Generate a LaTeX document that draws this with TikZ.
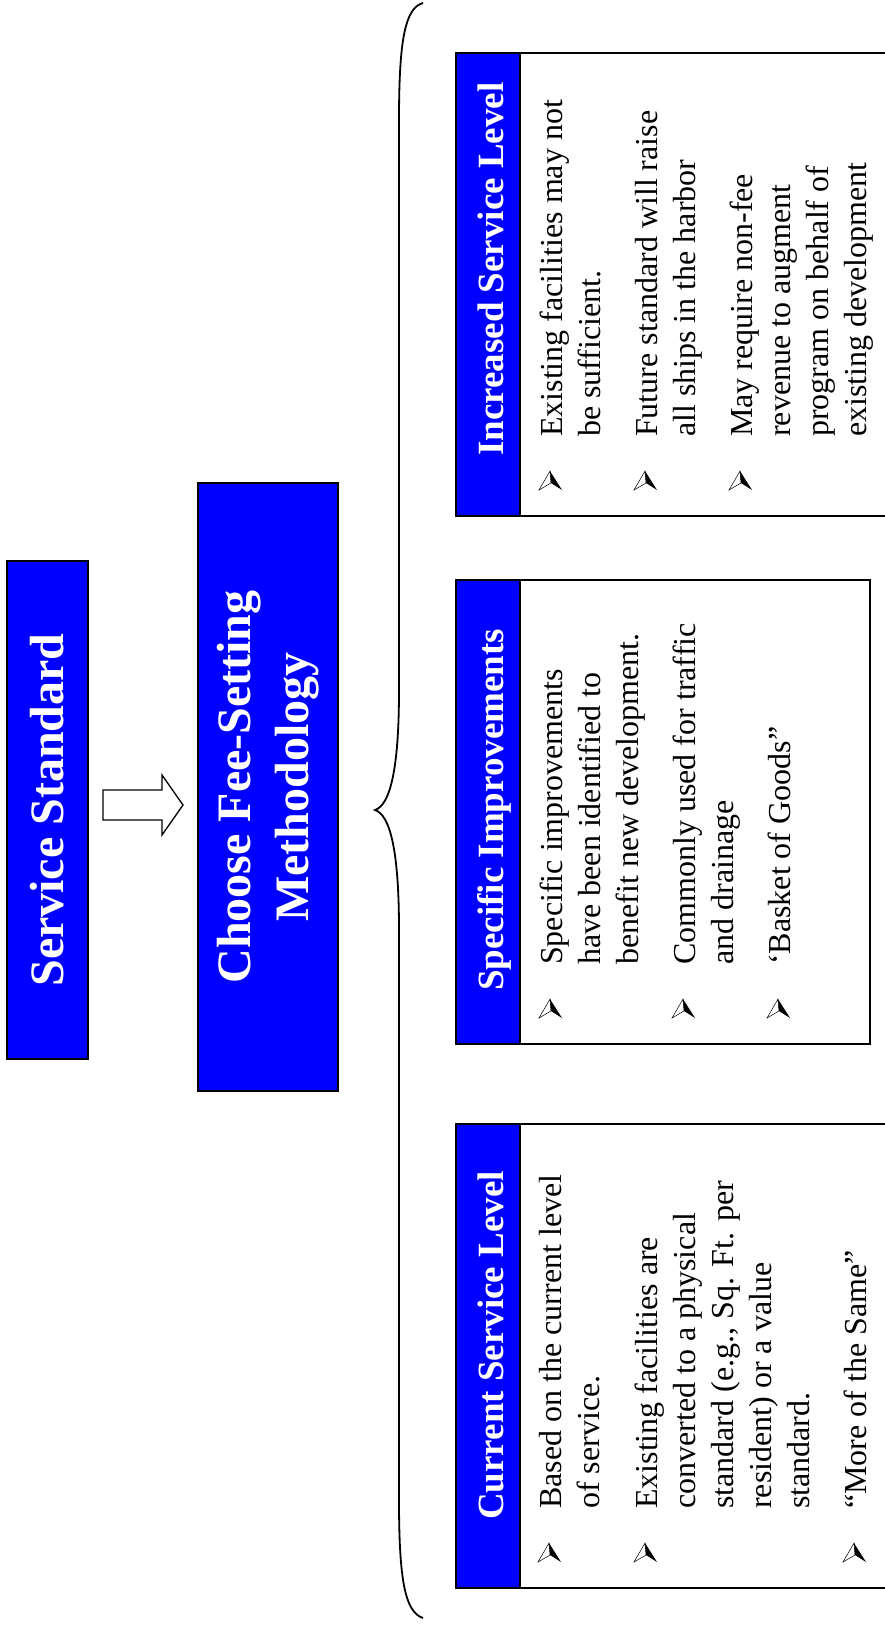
\documentclass[tikz,border=0pt]{standalone}
\usepackage{fontspec}
\setmainfont{Liberation Serif}
\usetikzlibrary{calc}
\definecolor{hdrblue}{RGB}{0,0,255}
\tikzset{
  bluebox/.style={draw=black, line width=1.6pt, fill=hdrblue},
  panel/.style={draw=black, line width=1.6pt, fill=white, inner sep=0pt},
  bigtitle/.style={bluebox, text=white, font=\fontsize{48}{58}\selectfont\bfseries, rotate=90, inner sep=0pt, align=center},
  hdrtext/.style={text=white, font=\fontsize{37}{44}\selectfont\bfseries, rotate=90, inner sep=0pt, anchor=base west},
  itemtext/.style={text=black, font=\fontsize{32}{38}\selectfont, rotate=90, inner sep=0pt, anchor=base west},
  blockarrow/.style={draw=black, fill=white, line width=1.3pt, line join=miter},
  bracepath/.style={draw=black, line width=1.8pt},
  bul/.pic={
    \filldraw[fill=white, draw=black, line width=0.5pt] (0,10) -- (-11,-9) -- (1,-2) -- cycle;
    \fill[black] (0,10) -- (1,-2) -- (12,-9) -- cycle;
  }
}
\begin{document}
\begin{tikzpicture}[x=1pt,y=1pt]
\useasboundingbox (0,0) rectangle (885,-1627);

% main boxes
\node[bigtitle, minimum width=498pt, minimum height=81pt] (ss) at (47.5,-810) {Service Standard};
\node[bigtitle, minimum width=608pt, minimum height=140pt] (ch) at (268,-787) {Choose Fee-Setting\\Methodology};

% block arrow between them
\coordinate (arrtail) at (103,-805);
\draw[blockarrow] ($(arrtail)+(0,15)$) -- ++(59,0) -- ++(0,15) -- ++(21,-30) -- ++(-21,-30) -- ++(0,15) -- ++(-59,0) -- cycle;

% brace
\coordinate (brtop) at (423,-3);
\coordinate (brtip) at (375,-810);
\coordinate (brbot) at (423,-1618);
\draw[bracepath] (brtop) .. controls (405,-8) and (399,-40) .. (399,-120) -- (399,-690)
  .. controls (399,-770) and (390,-805) .. (brtip)
  .. controls (390,-815) and (399,-850) .. (399,-930) -- (399,-1500)
  .. controls (399,-1580) and (405,-1612) .. (brbot);

% Increased Service Level panel
\node[panel, minimum width=437pt, minimum height=463pt, anchor=north west] (inc) at (455,-52) {};
\node[bluebox, minimum width=64pt, minimum height=463pt, anchor=north west, inner sep=0pt] (inch) at (455,-52) {};
\node[hdrtext] (inct) at (503,-456) {Increased Service Level};
\node[itemtext] (inc1) at (562,-437) {\parbox[t]{420pt}{Existing facilities may not\\be sufficient.}};
\node[itemtext] (inc2) at (657,-437) {\parbox[t]{420pt}{Future standard will raise\\all ships in the harbor}};
\node[itemtext] (inc3) at (752,-437) {\parbox[t]{420pt}{May require non-fee\\revenue to augment\\program on behalf of\\existing development}};
\pic at ($(inc1.base west)+(-12,-44)$) {bul};
\pic at ($(inc2.base west)+(-12,-44)$) {bul};
\pic at ($(inc3.base west)+(-12,-44)$) {bul};

% Specific Improvements panel
\node[panel, minimum width=414pt, minimum height=464pt, anchor=north west] (spe) at (455,-579) {};
\node[bluebox, minimum width=64pt, minimum height=464pt, anchor=north west, inner sep=0pt] (speh) at (455,-579) {};
\node[hdrtext] (spet) at (503,-991) {Specific Improvements};
\node[itemtext] (spe1) at (562,-965) {\parbox[t]{420pt}{Specific improvements\\have been identified to\\benefit new development.}};
\node[itemtext] (spe2) at (695,-965) {\parbox[t]{420pt}{Commonly used for traffic\\and drainage}};
\node[itemtext] (spe3) at (790,-965) {\parbox[t]{420pt}{‘Basket of Goods”}};
\pic at ($(spe1.base west)+(-12,-44)$) {bul};
\pic at ($(spe2.base west)+(-12,-44)$) {bul};
\pic at ($(spe3.base west)+(-12,-44)$) {bul};

% Current Service Level panel
\node[panel, minimum width=437pt, minimum height=464pt, anchor=north west] (cur) at (455,-1123) {};
\node[bluebox, minimum width=64pt, minimum height=464pt, anchor=north west, inner sep=0pt] (curh) at (455,-1123) {};
\node[hdrtext] (curt) at (503,-1520) {Current Service Level};
\node[itemtext] (cur1) at (561,-1509) {\parbox[t]{420pt}{Based on the current level\\of service.}};
\node[itemtext] (cur2) at (657,-1509) {\parbox[t]{420pt}{Existing facilities are\\converted to a physical\\standard (e.g., Sq. Ft. per\\resident) or a value\\standard.}};
\node[itemtext] (cur3) at (866,-1509) {\parbox[t]{420pt}{“More of the Same”}};
\pic at ($(cur1.base west)+(-12,-44)$) {bul};
\pic at ($(cur2.base west)+(-12,-44)$) {bul};
\pic at ($(cur3.base west)+(-12,-44)$) {bul};
\end{tikzpicture}
\end{document}
